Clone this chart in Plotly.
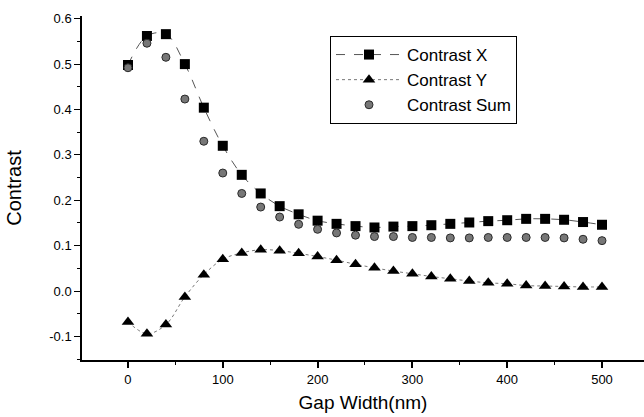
import plotly.graph_objects as go

gap = [0, 20, 40, 60, 80, 100, 120, 140, 160, 180, 200, 220, 240, 260, 280,
       300, 320, 340, 360, 380, 400, 420, 440, 460, 480, 500]
contrast_x = [0.498, 0.562, 0.566, 0.500, 0.404, 0.320, 0.256, 0.215, 0.187, 0.169,
              0.155, 0.148, 0.143, 0.140, 0.142, 0.143, 0.145, 0.148, 0.151, 0.154,
              0.156, 0.159, 0.159, 0.157, 0.152, 0.146]
contrast_y = [-0.068, -0.094, -0.074, -0.013, 0.036, 0.070, 0.084, 0.091, 0.089, 0.083,
              0.076, 0.068, 0.059, 0.051, 0.044, 0.038, 0.032, 0.027, 0.022, 0.018,
              0.016, 0.012, 0.011, 0.010, 0.009, 0.009]
contrast_sum = [0.492, 0.546, 0.515, 0.423, 0.330, 0.260, 0.215, 0.185, 0.163, 0.147,
                0.136, 0.128, 0.123, 0.120, 0.120, 0.118, 0.118, 0.117, 0.117, 0.118,
                0.118, 0.118, 0.118, 0.117, 0.114, 0.111]

FONT = "Liberation Sans, Arial, sans-serif"

fig = go.Figure()
fig.add_trace(go.Scatter(
    x=gap, y=contrast_x, name="Contrast X", mode="lines+markers",
    line=dict(color="#555555", width=1, dash="dash", shape="spline"),
    marker=dict(symbol="square", size=10, color="black"),
))
fig.add_trace(go.Scatter(
    x=gap, y=contrast_y, name="Contrast Y", mode="lines+markers",
    line=dict(color="#777777", width=1, dash="dot", shape="spline"),
    marker=dict(symbol="triangle-up", size=11, color="black"),
))
fig.add_trace(go.Scatter(
    x=gap, y=contrast_sum, name="Contrast Sum", mode="markers",
    marker=dict(symbol="circle", size=8, color="#777777",
                line=dict(color="#2a2a2a", width=1)),
))

fig.update_layout(
    width=644, height=417,
    margin=dict(l=82, r=0, t=16, b=57),
    paper_bgcolor="white", plot_bgcolor="white",
    font=dict(family=FONT, color="black", size=13),
    showlegend=True,
    legend=dict(
        x=(330 - 82) / 562, y=1 - (36 - 16) / 344, xanchor="left", yanchor="top",
        bordercolor="black", borderwidth=1, bgcolor="white",
        font=dict(family=FONT, size=17, color="black"),
        itemwidth=66, tracegroupgap=0,
    ),
    xaxis=dict(
        range=[-48.5, 544.3], tickvals=[0, 100, 200, 300, 400, 500],
        showgrid=False, zeroline=False, showline=True, linecolor="black", linewidth=2,
        ticks="outside", ticklen=6, tickwidth=1.5, tickcolor="black",
        minor=dict(dtick=50, tick0=0, ticks="outside", ticklen=3, tickwidth=1, tickcolor="black"),
        tickfont=dict(family=FONT, size=13),
        title=dict(text="Gap Width(nm)", font=dict(family=FONT, size=19), standoff=10),
    ),
    yaxis=dict(
        range=[-0.152, 0.606], tickvals=[-0.1, 0.0, 0.1, 0.2, 0.3, 0.4, 0.5, 0.6],
        ticktext=["-0.1", "0.0", "0.1", "0.2", "0.3", "0.4", "0.5", "0.6"],
        showgrid=False, zeroline=False, showline=True, linecolor="black", linewidth=1.5,
        ticks="outside", ticklen=6, tickwidth=1.2, tickcolor="black",
        minor=dict(dtick=0.05, tick0=0, ticks="outside", ticklen=3, tickwidth=1, tickcolor="black"),
        tickfont=dict(family=FONT, size=13),
        title=dict(text="Contrast", font=dict(family=FONT, size=20), standoff=22),
    ),
)

fig.write_html("out.html")
